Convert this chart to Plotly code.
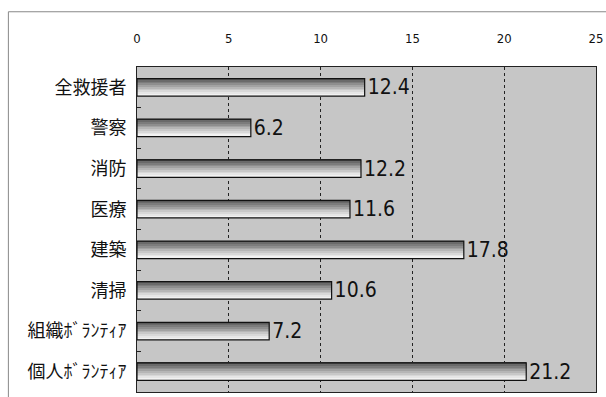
import plotly.graph_objects as go

categories = ["全救援者", "警察", "消防", "医療", "建築", "清掃", "組織ﾎﾞﾗﾝﾃｨｱ", "個人ﾎﾞﾗﾝﾃｨｱ"]
values = [12.4, 6.2, 12.2, 11.6, 17.8, 10.6, 7.2, 21.2]
tick_values = [0, 5, 10, 15, 20, 25]

NARROW = "Liberation Sans Narrow, DejaVu Sans Condensed, Liberation Sans, sans-serif"

BAR_W = 0.43
N_STRIPS = 10
# shading from dark (top edge) to light (bottom edge)
shades = ["#5a5a5a", "#6a6a6a", "#7c7c7c", "#8e8e8e", "#a2a2a2",
          "#b6b6b6", "#c8c8c8", "#d8d8d8", "#e6e6e6", "#f2f2f2"]

fig = go.Figure()
strip = BAR_W / N_STRIPS
for i, col in enumerate(shades):
    fig.add_trace(go.Bar(
        x=values, y=categories, orientation="h",
        width=strip * 1.05, offset=-BAR_W / 2 + i * strip,
        marker=dict(color=col, line=dict(width=0)),
        hoverinfo="skip", showlegend=False,
    ))

# outline and value labels
fig.add_trace(go.Bar(
    x=values, y=categories, orientation="h",
    width=BAR_W,
    marker=dict(color="rgba(0,0,0,0)", line=dict(color="#111111", width=1.2)),
    text=[f"{v:.1f}" for v in values], textposition="outside",
    constraintext="none",
    textfont=dict(family=NARROW, size=21, color="#111111"),
    cliponaxis=False, showlegend=False,
))

fig.update_layout(
    width=606, height=397,
    margin=dict(l=137, r=10, t=67, b=5),
    paper_bgcolor="white",
    plot_bgcolor="#c6c6c6",
    barmode="overlay",
    xaxis=dict(
        side="top", range=[0, 25], tickvals=tick_values,
        tickfont=dict(family=NARROW, size=13, color="#111111"),
        ticklabelstandoff=18, ticks="", ticklabeloverflow="allow",
        showgrid=True, gridcolor="#222222", griddash="dot", gridwidth=1,
        showline=True, linecolor="#222222", linewidth=1, mirror=True,
        zeroline=False, automargin=False,
    ),
    yaxis=dict(
        autorange="reversed", type="category",
        tickfont=dict(family="Noto Sans CJK JP, sans-serif", size=18, color="#111111"),
        ticks="inside", tickson="boundaries", ticklen=4, tickcolor="#222222",
        ticklabelstandoff=6,
        showgrid=False,
        showline=True, linecolor="#222222", linewidth=1, mirror=True,
        automargin=False,
    ),
    shapes=[dict(type="rect", xref="paper", yref="paper",
                 x0=-0.2802, x1=1.03, y0=-0.02, y1=1.17,
                 line=dict(color="#888888", width=1))],
)

fig.write_html("out.html")
